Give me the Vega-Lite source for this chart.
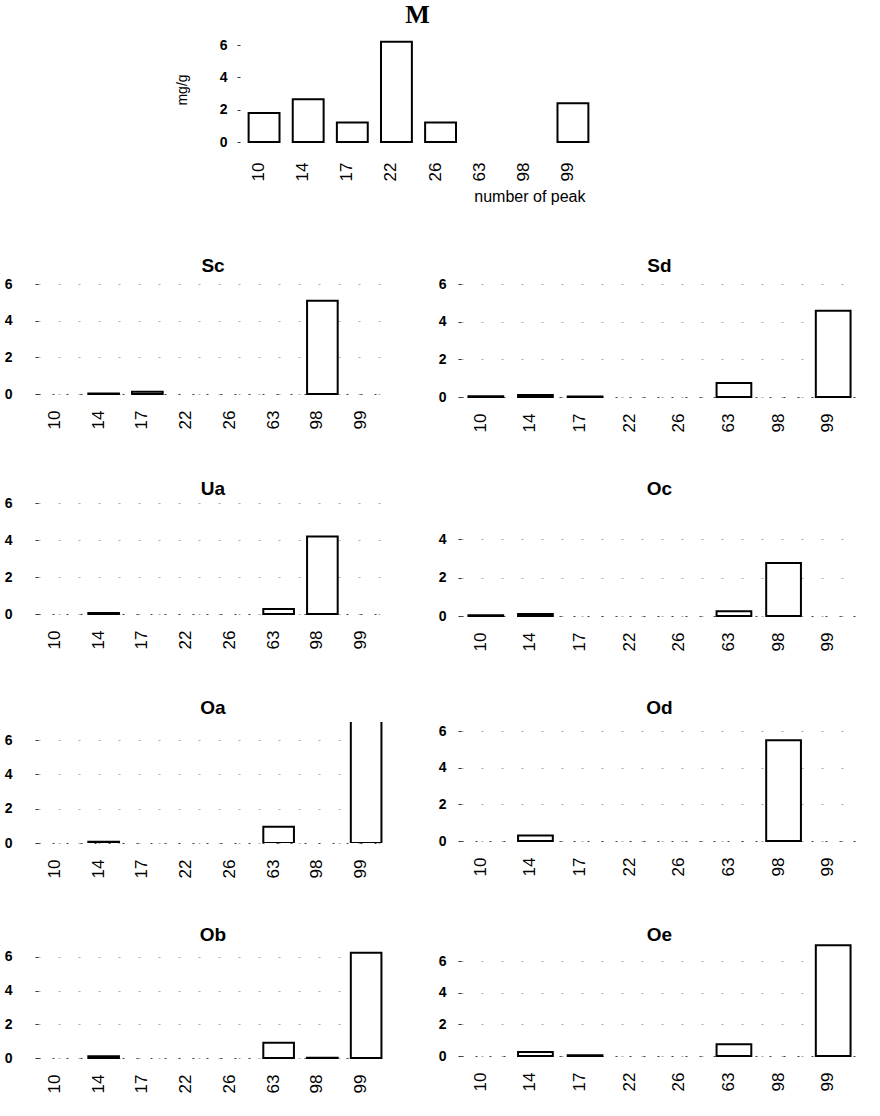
{
  "$schema": "https://vega.github.io/schema/vega-lite/v6.json",
  "padding": {"left": 4, "top": 2, "right": 5, "bottom": 5},
  "config": {
    "view": {"stroke": null},
    "font": "Liberation Sans",
    "title": {"fontSize": 19, "fontWeight": "bold", "color": "black", "offset": 2},
    "axis": {"labelColor": "black", "titleColor": "black"},
    "axisX": {
      "title": null,
      "labelAngle": 270,
      "labelFontSize": 17,
      "labelPadding": 16,
      "labelOffset": -5,
      "ticks": false,
      "domain": true,
      "domainColor": "#444",
      "domainDash": [2, 12],
      "grid": false
    },
    "axisY": {
      "title": null,
      "values": [0, 2, 4, 6],
      "labelFontSize": 14,
      "labelFontWeight": "bold",
      "ticks": true,
      "tickSize": 3,
      "tickColor": "#333",
      "domain": false,
      "grid": true,
      "gridColor": "#555",
      "gridOpacity": 0.5,
      "gridDash": [2, 18]
    }
  },
  "data": {
    "values": [
      {"panel": "M", "peak": "10", "value": 1.8},
      {"panel": "M", "peak": "14", "value": 2.65},
      {"panel": "M", "peak": "17", "value": 1.2},
      {"panel": "M", "peak": "22", "value": 6.2},
      {"panel": "M", "peak": "26", "value": 1.2},
      {"panel": "M", "peak": "99", "value": 2.4},
      {"panel": "Sc", "peak": "14", "value": 0.03},
      {"panel": "Sc", "peak": "17", "value": 0.12},
      {"panel": "Sc", "peak": "98", "value": 5.1},
      {"panel": "Sd", "peak": "10", "value": 0.04},
      {"panel": "Sd", "peak": "14", "value": 0.1},
      {"panel": "Sd", "peak": "17", "value": 0.03},
      {"panel": "Sd", "peak": "63", "value": 0.75},
      {"panel": "Sd", "peak": "99", "value": 4.6},
      {"panel": "Ua", "peak": "14", "value": 0.05},
      {"panel": "Ua", "peak": "63", "value": 0.27},
      {"panel": "Ua", "peak": "98", "value": 4.2},
      {"panel": "Oc", "peak": "10", "value": 0.04},
      {"panel": "Oc", "peak": "14", "value": 0.1},
      {"panel": "Oc", "peak": "63", "value": 0.25},
      {"panel": "Oc", "peak": "98", "value": 2.75},
      {"panel": "Oa", "peak": "14", "value": 0.08},
      {"panel": "Oa", "peak": "63", "value": 0.95},
      {"panel": "Oa", "peak": "99", "value": 7.6},
      {"panel": "Od", "peak": "14", "value": 0.3},
      {"panel": "Od", "peak": "98", "value": 5.5},
      {"panel": "Ob", "peak": "14", "value": 0.1},
      {"panel": "Ob", "peak": "63", "value": 0.9},
      {"panel": "Ob", "peak": "98", "value": 0.02},
      {"panel": "Ob", "peak": "99", "value": 6.25},
      {"panel": "Oe", "peak": "14", "value": 0.25},
      {"panel": "Oe", "peak": "17", "value": 0.05},
      {"panel": "Oe", "peak": "63", "value": 0.75},
      {"panel": "Oe", "peak": "99", "value": 7.0}
    ]
  },
  "spacing": 52,
  "vconcat": [
    {
      "title": {"text": "M", "font": "Liberation Serif", "fontSize": 26, "fontWeight": "bold", "dx": 106, "offset": 9},
      "width": 547,
      "height": 105,
      "transform": [{"filter": "datum.panel === 'M'"}],
      "mark": {"type": "bar", "fill": "white", "stroke": "black", "strokeWidth": 2},
      "encoding": {
        "x": {
          "field": "peak", "type": "ordinal",
          "scale": {"domain": ["10", "14", "17", "22", "26", "63", "98", "99"], "range": [204, 557], "paddingInner": 0.3, "paddingOuter": 0.15},
          "axis": {"title": "number of peak", "titleX": 547, "titleAlign": "right", "titleAnchor": "end", "titleFontSize": 16, "titleFontWeight": "normal", "titlePadding": 8, "labelPadding": 20, "domain": false}
        },
        "y": {
          "field": "value", "type": "quantitative",
          "scale": {"domain": [0, 6.5], "nice": false},
          "axis": {"offset": -202, "title": "mg/g", "titleFontSize": 14, "titleFontWeight": "normal", "titlePadding": 30, "labelPadding": 10, "grid": false}
        }
      }
    },
    {
      "spacing": 48,
      "vconcat": [
        {
          "spacing": 50,
          "hconcat": [
            {
              "title": {"text": "Sc", "offset": -1}, "width": 350, "height": 119,
              "transform": [{"filter": "datum.panel === 'Sc'"}],
              "mark": {"type": "bar", "fill": "white", "stroke": "black", "strokeWidth": 2},
              "encoding": {
                "x": {"field": "peak", "type": "ordinal", "scale": {"domain": ["10", "14", "17", "22", "26", "63", "98", "99"], "paddingInner": 0.3, "paddingOuter": 0.15}},
                "y": {"field": "value", "type": "quantitative", "scale": {"domain": [0, 6.5], "nice": false}, "axis": {"labelPadding": 23}}
              }
            },
            {
              "title": {"text": "Sd", "offset": -1}, "width": 397, "height": 122,
              "transform": [{"filter": "datum.panel === 'Sd'"}],
              "mark": {"type": "bar", "fill": "white", "stroke": "black", "strokeWidth": 2},
              "encoding": {
                "x": {"field": "peak", "type": "ordinal", "scale": {"domain": ["10", "14", "17", "22", "26", "63", "98", "99"], "paddingInner": 0.3, "paddingOuter": 0.15}},
                "y": {"field": "value", "type": "quantitative", "scale": {"domain": [0, 6.5], "nice": false}, "axis": {"labelPadding": 12}}
              }
            }
          ]
        },
        {
          "spacing": 50,
          "hconcat": [
            {
              "title": {"text": "Ua", "offset": -5}, "width": 350, "height": 120,
              "transform": [{"filter": "datum.panel === 'Ua'"}],
              "mark": {"type": "bar", "fill": "white", "stroke": "black", "strokeWidth": 2},
              "encoding": {
                "x": {"field": "peak", "type": "ordinal", "scale": {"domain": ["10", "14", "17", "22", "26", "63", "98", "99"], "paddingInner": 0.3, "paddingOuter": 0.15}},
                "y": {"field": "value", "type": "quantitative", "scale": {"domain": [0, 6.5], "nice": false}, "axis": {"labelPadding": 23}}
              }
            },
            {
              "title": {"text": "Oc", "offset": -5}, "width": 397, "height": 122,
              "transform": [{"filter": "datum.panel === 'Oc'"}],
              "mark": {"type": "bar", "fill": "white", "stroke": "black", "strokeWidth": 2},
              "encoding": {
                "x": {"field": "peak", "type": "ordinal", "scale": {"domain": ["10", "14", "17", "22", "26", "63", "98", "99"], "paddingInner": 0.3, "paddingOuter": 0.15}},
                "y": {"field": "value", "type": "quantitative", "scale": {"domain": [0, 6.34], "nice": false}, "axis": {"labelPadding": 12, "values": [0, 2, 4]}}
              }
            }
          ]
        },
        {
          "spacing": 50,
          "hconcat": [
            {
              "title": {"text": "Oa", "offset": 4}, "width": 350, "height": 121,
              "transform": [{"filter": "datum.panel === 'Oa'"}],
              "mark": {"type": "bar", "fill": "white", "stroke": "black", "strokeWidth": 2, "clip": true},
              "encoding": {
                "x": {"field": "peak", "type": "ordinal", "scale": {"domain": ["10", "14", "17", "22", "26", "63", "98", "99"], "paddingInner": 0.3, "paddingOuter": 0.15}},
                "y": {"field": "value", "type": "quantitative", "scale": {"domain": [0, 7.05], "nice": false}, "axis": {"labelPadding": 23}}
              }
            },
            {
              "title": {"text": "Od", "offset": 4}, "width": 397, "height": 119,
              "transform": [{"filter": "datum.panel === 'Od'"}],
              "mark": {"type": "bar", "fill": "white", "stroke": "black", "strokeWidth": 2},
              "encoding": {
                "x": {"field": "peak", "type": "ordinal", "scale": {"domain": ["10", "14", "17", "22", "26", "63", "98", "99"], "paddingInner": 0.3, "paddingOuter": 0.15}},
                "y": {"field": "value", "type": "quantitative", "scale": {"domain": [0, 6.5], "nice": false}, "axis": {"labelPadding": 12}}
              }
            }
          ]
        },
        {
          "spacing": 50,
          "hconcat": [
            {
              "title": {"text": "Ob", "offset": -3}, "width": 350, "height": 116,
              "transform": [{"filter": "datum.panel === 'Ob'"}],
              "mark": {"type": "bar", "fill": "white", "stroke": "black", "strokeWidth": 2},
              "encoding": {
                "x": {"field": "peak", "type": "ordinal", "scale": {"domain": ["10", "14", "17", "22", "26", "63", "98", "99"], "paddingInner": 0.3, "paddingOuter": 0.15}},
                "y": {"field": "value", "type": "quantitative", "scale": {"domain": [0, 6.89], "nice": false}, "axis": {"labelPadding": 23}}
              }
            },
            {
              "title": {"text": "Oe", "offset": -3}, "width": 397, "height": 114,
              "transform": [{"filter": "datum.panel === 'Oe'"}],
              "mark": {"type": "bar", "fill": "white", "stroke": "black", "strokeWidth": 2},
              "encoding": {
                "x": {"field": "peak", "type": "ordinal", "scale": {"domain": ["10", "14", "17", "22", "26", "63", "98", "99"], "paddingInner": 0.3, "paddingOuter": 0.15}},
                "y": {"field": "value", "type": "quantitative", "scale": {"domain": [0, 7.2], "nice": false}, "axis": {"labelPadding": 12}}
              }
            }
          ]
        }
      ]
    }
  ]
}
